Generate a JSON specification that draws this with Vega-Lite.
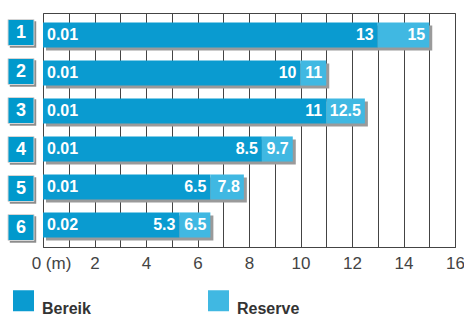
{
  "$schema": "https://vega.github.io/schema/vega-lite/v6.json",
  "padding": {"left": 3, "top": 12, "right": 5, "bottom": 0},
  "background": "white",
  "bounds": "flush",
  "config": {
    "view": {"stroke": null},
    "concat": {"spacing": 4},
    "font": "Liberation Sans",
    "axisX": {
      "values": [0, 1, 2, 3, 4, 5, 6, 7, 8, 9, 10, 11, 12, 13, 14, 15, 16],
      "tickCount": 20,
      "labelExpr": "datum.value == 0 ? '0 (m)' : (datum.value % 2 == 0 ? datum.label : '')",
      "grid": true, "gridColor": "#444444", "gridWidth": 1, "gridOpacity": 1,
      "ticks": false, "domainColor": "#444444",
      "labelFontSize": 17, "labelColor": "#444444", "labelPadding": 8,
      "labelFlush": false, "labelOverlap": false,
      "labelOffset": {"condition": {"test": "datum.value == 0", "value": 8}, "value": 0},
      "title": null
    },
    "legend": {
      "symbolType": "square",
      "symbolSize": 441,
      "symbolStrokeWidth": 0,
      "symbolOpacity": 1,
      "labelFontSize": 16,
      "labelFontWeight": "bold",
      "labelColor": "#333333",
      "labelOffset": 8,
      "labelBaseline": "top",
      "columnPadding": 117
    }
  },
  "data": {
    "values": [
      {"rij": "1", "min": "0.01", "bereik": 13, "reserve": 15},
      {"rij": "2", "min": "0.01", "bereik": 10, "reserve": 11},
      {"rij": "3", "min": "0.01", "bereik": 11, "reserve": 12.5},
      {"rij": "4", "min": "0.01", "bereik": 8.5, "reserve": 9.7},
      {"rij": "5", "min": "0.01", "bereik": 6.5, "reserve": 7.8},
      {"rij": "6", "min": "0.02", "bereik": 5.3, "reserve": 6.5}
    ]
  },
  "spacing": 4,
  "hconcat": [
    {
      "width": 36,
      "height": 234,
      "encoding": {
        "y": {"field": "rij", "type": "ordinal", "scale": {"paddingInner": 0.34, "paddingOuter": 0.25}, "axis": null},
        "x": {"datum": 0, "type": "quantitative", "scale": {"domain": [-1, 1]}, "axis": null}
      },
      "layer": [
        {"mark": {"type": "point", "shape": "square", "filled": true, "size": 700, "color": "#8c8c8c", "opacity": 1, "xOffset": 2, "yOffset": 2}},
        {"mark": {"type": "point", "shape": "square", "filled": true, "size": 676, "color": "#0099cc", "opacity": 1, "stroke": "#d5d5d5", "strokeWidth": 1}},
        {"mark": {"type": "text", "color": "white", "fontWeight": "bold", "fontSize": 18, "baseline": "middle", "align": "center"}, "encoding": {"text": {"field": "rij"}}}
      ]
    },
    {
      "width": 412,
      "height": 234,
      "view": {"stroke": "#444444", "strokeWidth": 1},
      "encoding": {
        "y": {"field": "rij", "type": "ordinal", "scale": {"paddingInner": 0.34, "paddingOuter": 0.25}, "axis": null}
      },
      "layer": [
        {
          "mark": {"type": "bar", "color": "#9a9a9a", "xOffset": 3, "x2Offset": 3, "yOffset": 3, "y2Offset": 3},
          "encoding": {
            "x": {"field": "reserve", "type": "quantitative", "scale": {"domain": [0, 16], "nice": false}},
            "x2": {"datum": 0}
          }
        },
        {
          "mark": {"type": "bar"},
          "encoding": {
            "x": {"field": "bereik", "type": "quantitative"},
            "x2": {"datum": 0},
            "color": {
              "datum": "Bereik",
              "scale": {"domain": ["Bereik", "Reserve"], "range": ["#0a9bd0", "#40b8e2"]},
              "legend": {"title": null, "orient": "none", "direction": "horizontal", "legendX": 10, "legendY": 277}
            }
          }
        },
        {
          "mark": {"type": "bar"},
          "encoding": {
            "x": {"field": "bereik", "type": "quantitative"},
            "x2": {"field": "reserve"},
            "color": {"datum": "Reserve"}
          }
        },
        {
          "mark": {"type": "text", "color": "white", "fontWeight": "bold", "fontSize": 16, "align": "left", "baseline": "middle", "dx": 4},
          "encoding": {"x": {"datum": 0, "type": "quantitative"}, "text": {"field": "min", "type": "nominal"}}
        },
        {
          "mark": {"type": "text", "color": "white", "fontWeight": "bold", "fontSize": 16, "align": "right", "baseline": "middle", "dx": -4},
          "encoding": {"x": {"field": "bereik", "type": "quantitative"}, "text": {"field": "bereik", "type": "nominal"}}
        },
        {
          "mark": {"type": "text", "color": "white", "fontWeight": "bold", "fontSize": 16, "align": "right", "baseline": "middle", "dx": -4},
          "encoding": {"x": {"field": "reserve", "type": "quantitative"}, "text": {"field": "reserve", "type": "nominal"}}
        }
      ]
    }
  ]
}
